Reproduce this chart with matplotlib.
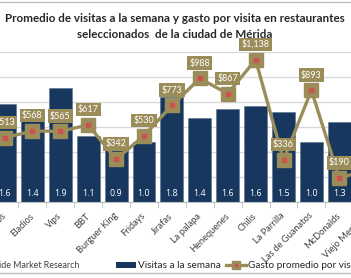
import numpy as np
import matplotlib.pyplot as plt
from matplotlib.patches import Patch
from matplotlib.lines import Line2D

plt.rcParams['font.family'] = ['Lato', 'DejaVu Sans']

restaurantes = ["Los Almendros", "Eladios", "Vips", "BBT", "Burguer King", "Fridays",
                "Jirafas", "La palapa", "Henequenes", "Chilis", "La Parrilla",
                "Las de Guanatos", "McDonalds", "Viejo Mercado"]
visitas = [1.63, 1.4, 1.9, 1.1, 0.9, 1.0, 1.75, 1.4, 1.55, 1.6, 1.5, 1.0, 1.33, 1.2]
gasto = [513, 568, 565, 617, 342, 530, 773, 988, 867, 1138, 336, 893, 190, 260]

navy = "#17375E"
olive = "#9A8D5A"
rojo = "#D0504D"

W, H = 351, 278
fig = plt.figure(figsize=(W / 100, H / 100), dpi=100)

# axes placed so the chart is cropped on both sides like the reference
x0 = 4.5 - 0.5 * 27.9
x1 = 4.5 + 13.5 * 27.9
ax = fig.add_axes([x0 / W, (H - 202) / H, (x1 - x0) / W, 150 / H])
x = np.arange(len(restaurantes))

ax.bar(x, visitas, width=0.82, color=navy, edgecolor="#5A6E8C", linewidth=0.4, zorder=2)
for i, v in enumerate(visitas):
    ax.text(i, 0.15, f"{v:.1f}", ha="center", va="center", color="white", fontsize=6.4,
            family="Open Sans", zorder=3)

ax.set_xlim(-0.5, len(restaurantes) - 0.5)
ax.set_ylim(0, 2.5)
ax.set_yticks(np.linspace(0, 2.5, 7))
ax.yaxis.grid(True, color="#D9D9D9", linewidth=1)
ax.set_axisbelow(True)
ax.tick_params(axis="y", left=False, labelleft=False)
for s in ["top", "left", "right"]:
    ax.spines[s].set_visible(False)
ax.spines["bottom"].set_color("#BFBFBF")
ax.set_xticks(x)
ax.set_xticklabels(restaurantes, rotation=45, ha="right", va="center",
                   rotation_mode="anchor", fontsize=6.7, color="#404040")
ax.tick_params(axis="x", which="major", length=0, pad=9)
ax.set_xticks(x[:-1] + 0.5, minor=True)
ax.tick_params(axis="x", which="minor", length=4, color="#BFBFBF")

ax2 = ax.twinx()
ax2.set_ylim(0, 1200)
ax2.axis("off")
ax2.plot(x, gasto, color=olive, linewidth=2.4, marker="s", markersize=10,
         markerfacecolor=olive, markeredgecolor=olive, zorder=3)
ax2.plot(x, gasto, linestyle="none", marker="s", markersize=3.5, color=rojo, zorder=4)
for i, g in enumerate(gasto):
    ax2.annotate(f"${g:,}", (i, g), xytext=(0, 11), textcoords="offset points",
                 ha="center", va="center", color="white", fontsize=6.5, zorder=5,
                 bbox=dict(boxstyle="square,pad=0.25", fc=olive, ec="none"))

fig.text(175 / W, 1 - 19 / H, "Promedio de visitas a la semana y gasto por visita en restaurantes",
         ha="center", va="center", fontsize=8.4, fontweight="bold", color="#262626")
fig.text(175 / W, 1 - 34 / H, "seleccionados  de la ciudad de Mérida",
         ha="center", va="center", fontsize=8.4, fontweight="bold", color="#262626")

fig.text(79 / W, 1 - 266 / H, "Fuente: Inside Market Research", ha="right", va="center",
         fontsize=6.4, color="#404040")

handles = [Patch(facecolor=navy),
           (Line2D([], [], color=olive, linewidth=2.4, marker="s", markersize=6),
            Line2D([], [], linestyle="none", marker="s", markersize=2, color=rojo))]
fig.legend(handles, ["Visitas a la semana", "Gasto promedio por visita"], ncol=2,
           loc="center left", bbox_to_anchor=(116 / W, 1 - 266 / H), frameon=False,
           fontsize=7.2, handlelength=2.0, handleheight=0.6, handletextpad=0.2,
           columnspacing=0.5, borderpad=0, borderaxespad=0, labelcolor="#262626")

fig.add_artist(Line2D([0, 1], [1 - 1.5 / H, 1 - 1.5 / H], color="#BFBFBF", linewidth=1))
fig.add_artist(Line2D([0, 1], [1 - 273 / H, 1 - 273 / H], color="#BFBFBF", linewidth=1))

fig.savefig("out.png", dpi=100)
